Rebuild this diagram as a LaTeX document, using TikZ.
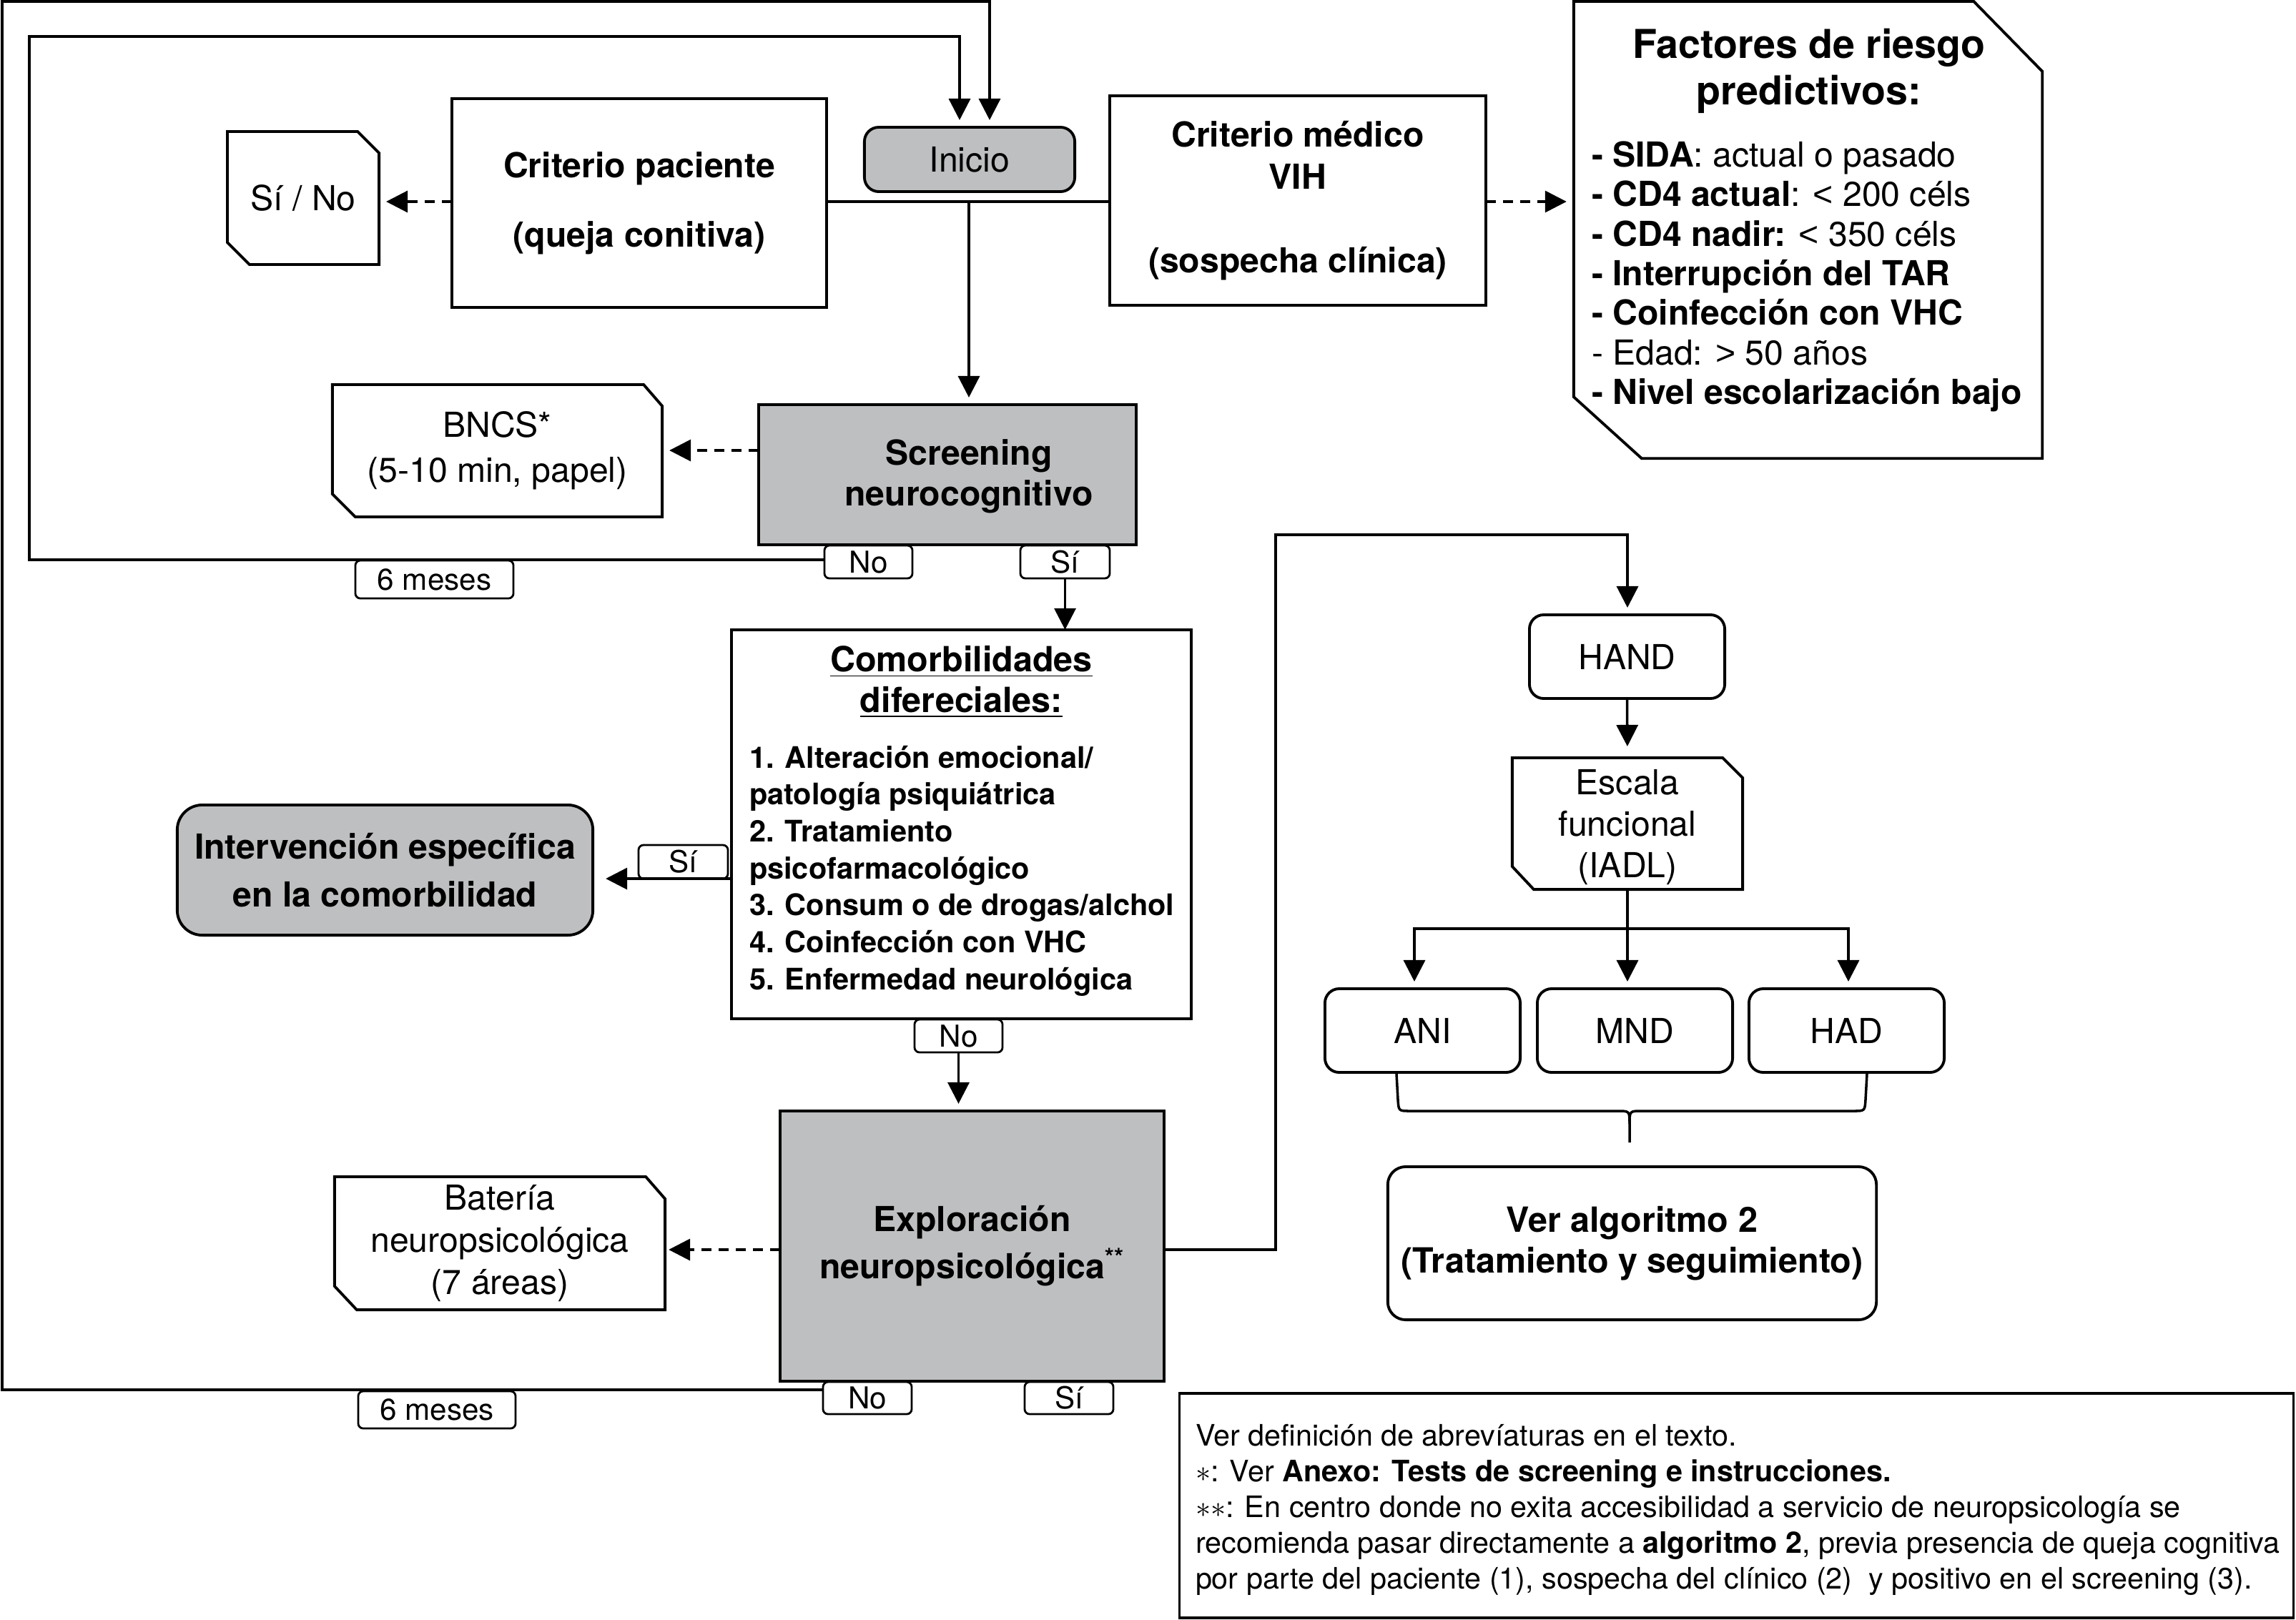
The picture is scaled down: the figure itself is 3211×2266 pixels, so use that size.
\documentclass[tikz,border=0pt]{standalone}
\usepackage{fontspec}
\setmainfont{TeX Gyre Heros}
\newfontfamily\libs{Liberation Sans}
\usetikzlibrary{arrows.meta,calc}
\definecolor{boxgray}{RGB}{190,191,193}
\newcommand\fz[2]{\fontsize{#1pt}{#2pt}\selectfont}
\newcommand\cutshape[5]{%
  \draw[line width=1.1pt] (#1.north west) -- ([xshift=-#2]#1.north east) -- ([yshift=-#3]#1.north east) -- (#1.south east) -- ([xshift=#4]#1.south west) -- ([yshift=#5]#1.south west) -- cycle;}
\begin{document}
\begin{tikzpicture}[x=0.01cm,y=-0.01cm,
  every node/.style={inner sep=0pt, outer sep=0pt},
  box/.style={draw, line width=1.1pt, align=center},
  gbox/.style={box, fill=boxgray},
  rbox/.style={box, rounded corners=0.2cm},
  lab/.style={draw, line width=0.8pt, rounded corners=0.07cm, fill=white, font=\fz{12}{14}},
  conn/.style={line width=1pt},
  arr/.style={conn, -{Triangle[length=0.3cm,width=0.3cm]}, shorten >=0.1cm},
  darr/.style={arr, dash pattern=on 0.14cm off 0.1cm},
]
\fill[white] (0,0) rectangle (3211,2266);
\useasboundingbox (0,0) rectangle (3211,2266);

% ---------- top row ----------
\node[gbox, rounded corners=0.2cm, minimum width=2.94cm, minimum height=0.9cm, font=\fz{13.7}{16}] (inicio) at (1356,223) {Inicio};
\node[box, minimum width=5.24cm, minimum height=2.91cm, font=\fz{13.7}{27.6}\bfseries] (cp) at (894,284) {Criterio paciente\\(queja conitiva)};
\node[box, minimum width=5.26cm, minimum height=2.93cm, font=\fz{13.7}{16.7}\bfseries] (cm) at (1815,280.5) {Criterio médico\\VIH\\[16.7pt](sospecha clínica)};
\node[minimum width=2.12cm, minimum height=1.86cm, font=\fz{13.7}{16}] (sino) at (424,277) {Sí / No};
\cutshape{sino}{0.3cm}{0.3cm}{0.31cm}{0.31cm}

\node[minimum width=6.55cm, minimum height=6.39cm] (fr) at (2528.5,321.5) {};
\cutshape{fr}{0.96cm}{0.98cm}{0.95cm}{0.86cm}
\node[font=\fz{15.8}{18.5}\bfseries, align=center] (frt) at (2530,99) {Factores de riesgo\\predictivos:};
\node[font=\fz{13.7}{15.75}, align=left, anchor=west] (frl) at (2226,387) {%
\textbf{- SIDA}: actual o pasado\\
\textbf{- CD4 actual}: {\libs <} 200 céls\\
\textbf{- CD4 nadir:} {\libs <} 350 céls\\
\textbf{- Interrupción del TAR}\\
\textbf{- Coinfección con VHC}\\
- Edad: {\libs >} 50 años\\
\textbf{- Nivel escolarización bajo}};

% ---------- screening ----------
\node[gbox, minimum width=5.28cm, minimum height=1.96cm] (scr) at (1325,664) {};
\node[font=\fz{13.7}{16.2}\bfseries, align=center] (scrt) at (1355,666) {Screening\\neurocognitivo};
\node[minimum width=4.61cm, minimum height=1.85cm, font=\fz{13.7}{17.9}, align=center] (bncs) at (695.5,630.5) {BNCS*\\(5-10 min, papel)};
\cutshape{bncs}{0.26cm}{0.3cm}{0.32cm}{0.32cm}
\node[lab, minimum width=1.23cm, minimum height=0.46cm] (no1) at (1214.5,786) {No};
\node[lab, minimum width=1.25cm, minimum height=0.46cm] (si1) at (1489.5,786) {Sí};
\node[lab, minimum width=2.21cm, minimum height=0.53cm] (mes1) at (607.5,810.5) {6 meses};

% ---------- comorbilidades ----------
\node[box, minimum width=6.43cm, minimum height=5.44cm] (com) at (1344.5,1153) {};
\node[font=\fz{13.8}{16.2}\bfseries, align=center] (comt) at (1344.5,954) {\underline{Comorbilidades}\\\underline{difereciales:}};
\node[font=\fz{11.8}{14.7}\bfseries, align=left, anchor=west] (coml) at (1048,1218) {1. Alteración emocional/\\patología psiquiátrica\\2. Tratamiento\\psicofarmacológico\\3. Consum o de drogas/alchol\\4. Coinfección con VHC\\5. Enfermedad neurológica};
\node[lab, minimum width=1.25cm, minimum height=0.47cm] (si2) at (955.5,1205.5) {Sí};
\node[gbox, rounded corners=0.35cm, minimum width=5.81cm, minimum height=1.82cm, font=\fz{13.7}{19}\bfseries] (int) at (538.5,1217) {Intervención específica\\en la comorbilidad};
\node[lab, minimum width=1.23cm, minimum height=0.46cm] (no2) at (1340.5,1449) {No};

% ---------- exploracion ----------
\node[gbox, minimum width=5.37cm, minimum height=3.78cm, font=\fz{13.7}{18.8}\bfseries] (exp) at (1359.5,1743) {Exploración\\neuropsicológica\textsuperscript{**}};
\node[minimum width=4.62cm, minimum height=1.86cm, font=\fz{13.7}{16.8}, align=center] (bat) at (699,1739) {Batería\\neuropsicológica\\(7 áreas)};
\cutshape{bat}{0.27cm}{0.31cm}{0.31cm}{0.33cm}
\node[lab, minimum width=1.24cm, minimum height=0.45cm] (no3) at (1213,1955.5) {No};
\node[lab, minimum width=1.24cm, minimum height=0.45cm] (si3) at (1495,1955.5) {Sí};
\node[lab, minimum width=2.2cm, minimum height=0.52cm] (mes2) at (611,1972) {6 meses};

% ---------- right column ----------
\node[rbox, minimum width=2.73cm, minimum height=1.17cm, font=\fz{13.7}{16}] (hand) at (2275.5,918.5) {HAND};
\node[minimum width=3.22cm, minimum height=1.84cm] (esc) at (2276,1152) {};
\node[font=\fz{13.7}{16.6}, align=center] (esct) at (2276,1157) {Escala\\funcional\\(IADL)};
\cutshape{esc}{0.28cm}{0.28cm}{0.3cm}{0.32cm}
\node[rbox, minimum width=2.73cm, minimum height=1.17cm, font=\fz{13.7}{16}] (ani) at (1989.5,1441.5) {ANI};
\node[rbox, minimum width=2.73cm, minimum height=1.17cm, font=\fz{13.7}{16}] (mnd) at (2286.5,1441.5) {MND};
\node[rbox, minimum width=2.73cm, minimum height=1.17cm, font=\fz{13.7}{16}] (had) at (2582.5,1441.5) {HAD};
\node[rbox, rounded corners=0.25cm, minimum width=6.83cm, minimum height=2.14cm, font=\fz{13.8}{16.2}\bfseries] (ver) at (2282.5,1739) {Ver algoritmo 2\\(Tratamiento y seguimiento)};

% ---------- footnote ----------
\node[draw, line width=1.1pt, minimum width=15.57cm, minimum height=3.14cm] (fn) at (2428.5,2106) {};
\node[font=\fz{11.75}{14.2}, align=left, anchor=west] (fnt) at (1672,2112) {Ver definición de abrevíaturas en el texto.\\$\ast$: Ver \textbf{Anexo: Tests de screening e instrucciones.}\\$\ast\ast$: En centro donde no exita accesibilidad a servicio de neuropsicología se\\recomienda pasar directamente a \textbf{algoritmo 2}, previa presencia de queja cognitiva\\por parte del paciente (1), sospecha del clínico (2)\ \ y positivo en el screening (3).};

% ---------- connectors ----------
\coordinate (oBL) at (3,1944); \coordinate (oTL) at (3,2); \coordinate (oTR) at (1384,2);
\draw[arr] (no3.west |- oBL) -- (oBL) -- (oTL) -- (oTR) -- (oTR |- inicio.north);
\coordinate (iBL) at (41,783); \coordinate (iTL) at (41,51); \coordinate (iTR) at (1342,51);
\draw[arr] (no1.west |- iBL) -- (iBL) -- (iTL) -- (iTR) -- (iTR |- inicio.north);

\coordinate (hj) at (1355,282);
\draw[conn] (cp.east |- hj) -- (cm.west |- hj);
\draw[arr] (hj) -- (hj |- scr.north);
\draw[darr] (cp.west |- hj) -- (sino.east |- hj);
\draw[darr] (cm.east |- hj) -- (fr.west |- hj);

\coordinate (bj) at (0,630);
\draw[darr] (scr.west |- bj) -- (bncs.east |- bj);
\draw[arr, shorten >=0pt] (si1.south) -- (si1.south |- com.north);
\draw[arr, shorten >=0.18cm] (si2.south -| com.west) -- (si2.south -| int.east);
\draw[arr] (no2.south) -- (no2.south |- exp.north);
\coordinate (ej) at (0,1748);
\draw[darr, shorten >=0.05cm] (exp.west |- ej) -- (bat.east |- ej);

\coordinate (r1) at (1784,748); \coordinate (r2) at (2276,748);
\draw[arr] (exp.east |- ej) -| (r1) -- (r2) -- (r2 |- hand.north);
\draw[arr, shorten >=0.16cm] (hand.south) -- (esc.north);
\coordinate (j2) at (2276,1299); \coordinate (ja) at (1978,1299); \coordinate (jh) at (2585,1299);
\draw[conn] (esc.south) -- (j2);
\draw[arr] (j2) -- (j2 |- mnd.north);
\draw[arr] (j2) -- (ja) -- (ja |- ani.north);
\draw[arr] (j2) -- (jh) -- (jh |- had.north);

% brace
\coordinate (bl) at (1953,1502); \coordinate (br) at (2611,1502); \coordinate (bt) at (2279,1598);
\draw[conn] (bl) -- (1955,1538) .. controls (1956,1554) .. (1972,1554) -- (2262,1554) .. controls (2279,1554) .. (2279,1572) -- (bt);
\draw[conn] (br) -- (2609,1538) .. controls (2608,1554) .. (2592,1554) -- (2296,1554) .. controls (2279,1554) .. (2279,1572);
\end{tikzpicture}
\end{document}
